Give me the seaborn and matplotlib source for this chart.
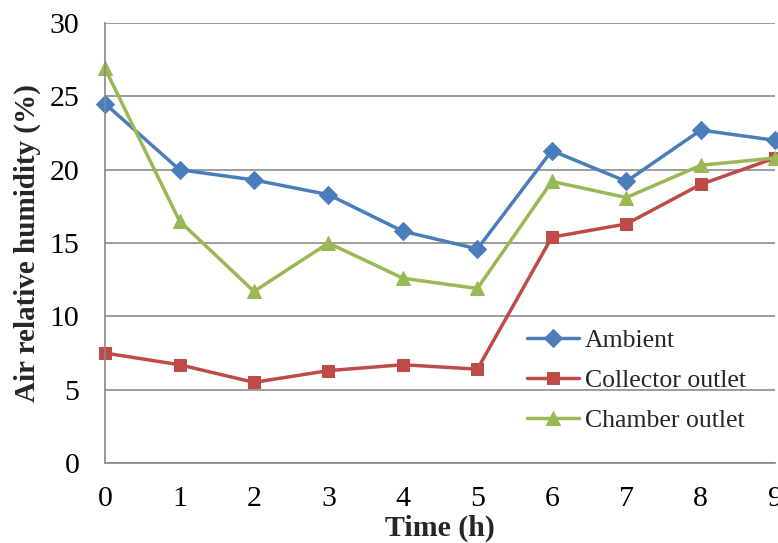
import matplotlib
matplotlib.use("Agg")
import matplotlib.pyplot as plt
import seaborn as sns
import pandas as pd

hours = [0, 1, 2, 3, 4, 5, 6, 7, 8, 9]
ambient = [24.5, 20.0, 19.3, 18.3, 15.8, 14.6, 21.3, 19.2, 22.7, 22.0]
collector = [7.5, 6.7, 5.5, 6.3, 6.7, 6.4, 15.4, 16.3, 19.0, 20.8]
chamber = [26.9, 16.5, 11.7, 15.0, 12.6, 11.9, 19.2, 18.1, 20.3, 20.8]
series_names = ["Ambient", "Collector outlet", "Chamber outlet"]
y_ticks = [0, 5, 10, 15, 20, 25, 30]

df = pd.DataFrame({
    "Time": hours * 3,
    "RH": ambient + collector + chamber,
    "Series": [series_names[0]] * 10 + [series_names[1]] * 10 + [series_names[2]] * 10,
})

sns.set_theme(style="white")
plt.rcParams['font.family'] = ['Liberation Serif', 'DejaVu Serif']

fig = plt.figure(figsize=(7.78, 5.43), dpi=100)
ax = fig.add_axes([0.135, 0.1473, 0.8615, 0.8103])

palette = {"Ambient": "#4A7EBB", "Collector outlet": "#BE4B48", "Chamber outlet": "#98B954"}
markers = {"Ambient": "D", "Collector outlet": "s", "Chamber outlet": "^"}
sizes_m = {"Ambient": 9, "Collector outlet": 8, "Chamber outlet": 10}

for name in series_names:
    sub = df[df["Series"] == name]
    sns.lineplot(data=sub, x="Time", y="RH", ax=ax, color=palette[name],
                 marker=markers[name], markersize=sizes_m[name], linewidth=2.5,
                 markeredgecolor=palette[name], label=name, clip_on=False)

ax.set_xlim(0, 9)
ax.set_ylim(0, 30)
ax.set_xticks(hours)
ax.set_yticks(y_ticks)
ax.tick_params(axis='both', labelsize=21.5, labelcolor='black', color='#888888',
               length=6.5, width=1.2, direction='out')
ax.tick_params(axis='y', pad=12)
ax.tick_params(axis='x', pad=10)
ax.yaxis.grid(True, color='#8c8c8c', linewidth=1.2)
ax.xaxis.grid(False)
for s in ['top', 'right']:
    ax.spines[s].set_visible(False)
for s in ['left', 'bottom']:
    ax.spines[s].set_color('#888888')
    ax.spines[s].set_linewidth(1.2)

ax.set_xlabel("Time (h)", fontsize=21.5, fontweight='bold', labelpad=2)
ax.set_ylabel("Air relative humidity (%)", fontsize=21, fontweight='bold', labelpad=6)

leg = ax.legend(loc='upper left', bbox_to_anchor=(0.63, 0.305), frameon=False, fontsize=18.5,
                handlelength=2.0, handletextpad=0.25, labelspacing=0.67, borderpad=0,
                borderaxespad=0)

fig.savefig("out.png", dpi=100)
